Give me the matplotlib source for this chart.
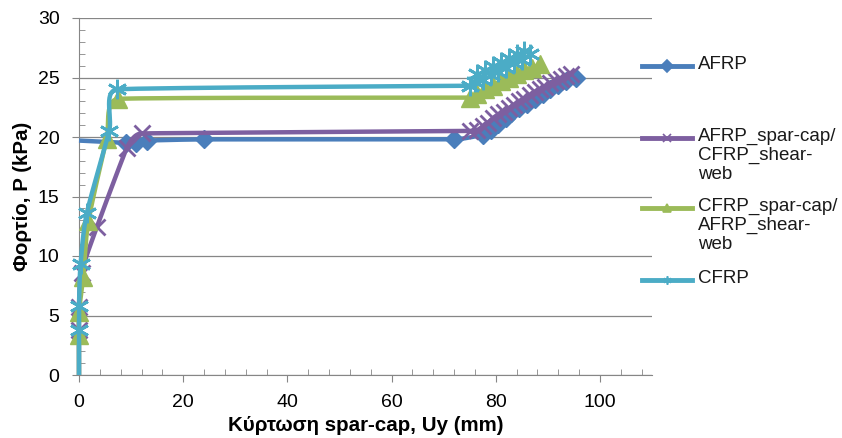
import numpy as np
import matplotlib.pyplot as plt
from matplotlib.lines import Line2D
from matplotlib.ticker import MultipleLocator

plt.rcParams['font.family'] = ['Liberation Sans', 'DejaVu Sans']

# AFRP
afrp_x = [0, 9, 11, 13, 24, 72, 77.5, 79, 80.5, 82, 83, 84.5, 86, 87.5, 89, 90.5, 92, 93.5, 95.5]
afrp_y = [19.7, 19.5, 19.5, 19.7, 19.8, 19.8, 20.2, 20.6, 21.1, 21.6, 22.0, 22.4, 22.8, 23.2, 23.6, 24.0, 24.4, 24.7, 25.0]

# AFRP spar-cap / CFRP shear-web
acs_x = [0, 0, 0, 0.5, 3.4, 9.2, 12, 75, 76.5, 77.5, 78.5, 79.5, 80.5, 81.5, 82.5, 83.5, 84.5,
         85.5, 86.5, 87.5, 88.5, 89.5, 90.5, 91.5, 92.5, 93.5, 94.5]
acs_y = [0, 3.8, 5.7, 8.6, 12.4, 19.1, 20.3, 20.5, 20.6, 20.9, 21.2, 21.6, 21.9, 22.1, 22.4, 22.7, 23.0,
         23.2, 23.5, 23.8, 24.0, 24.2, 24.5, 24.7, 24.9, 25.1, 25.3]

# CFRP spar-cap / AFRP shear-web
cas_x = [0, 0, 0, 0.8, 1.8, 5.3, 7.5, 75, 76.5, 78, 79.5, 81, 82.5, 84, 85.5, 87, 88.5]
cas_y = [0, 3.4, 5.3, 8.2, 12.9, 19.8, 23.2, 23.3, 23.6, 24.0, 24.3, 24.7, 25.0, 25.3, 25.6, 25.8, 26.1]

# CFRP
cfrp_x = [0, 0, 0, 0.3, 1.5, 5.8, 7.3, 75, 76, 76.5, 77.5, 78, 79, 79.5, 80.5, 81, 82, 82.5, 83.5, 84, 85, 85.5, 86.5]
cfrp_y = [0, 3.8, 5.8, 9.3, 13.6, 20.5, 24.0, 24.3, 24.6, 25.3, 24.8, 25.6, 25.2, 26.0, 25.5, 26.3, 25.8, 26.6, 26.2, 27.0, 26.5, 27.2, 27.0]

labels = ['AFRP', 'AFRP_spar-cap/\nCFRP_shear-\nweb', 'CFRP_spar-cap/\nAFRP_shear-\nweb', 'CFRP']
colors = ['#4A7EBB', '#7D5FA0', '#9BBB59', '#4BACC6']

# rough pixel size of one data unit, so smoothing works in screen space
SX, SY = 5.21, 11.9


def smooth(xs, ys, n=16):
    # bezier "smoothed line"; handles limited by the shorter neighbouring segment
    p = np.column_stack([np.asarray(xs, float) * SX, np.asarray(ys, float) * SY])
    m = len(p)
    seg = np.linalg.norm(np.diff(p, axis=0), axis=1)
    d = np.zeros_like(p)
    h = np.zeros(m)
    for i in range(m):
        a = p[max(i - 1, 0)]
        b = p[min(i + 1, m - 1)]
        v = b - a
        nv = np.linalg.norm(v)
        d[i] = v / nv if nv > 0 else 0
        near = [seg[j] for j in (i - 1, i) if 0 <= j < m - 1]
        h[i] = min(near) / 3
    t = np.linspace(0, 1, n)[:, None]
    pts = [p[:1]]
    for i in range(m - 1):
        c0, c3 = p[i], p[i + 1]
        c1 = c0 + d[i] * h[i]
        c2 = c3 - d[i + 1] * h[i + 1]
        b = (1 - t) ** 3 * c0 + 3 * (1 - t) ** 2 * t * c1 + 3 * (1 - t) * t ** 2 * c2 + t ** 3 * c3
        pts.append(b[1:])
    out = np.vstack(pts)
    return out[:, 0] / SX, out[:, 1] / SY


fig = plt.figure(figsize=(8.42, 4.38), dpi=100)
ax = fig.add_axes([79 / 842, 1 - 375 / 438, (652 - 79) / 842, (375 - 18) / 438])

styles = [
    dict(marker='D', markersize=9, markeredgewidth=1),
    dict(marker='x', markersize=11, markeredgewidth=2),
    dict(marker='^', markersize=13, markeredgewidth=1),
    dict(marker=(6, 2, 0), markersize=14, markeredgewidth=2),
]
series = [(afrp_x, afrp_y), (acs_x, acs_y), (cas_x, cas_y), (cfrp_x, cfrp_y)]

for k, ((xs, ys), c, st) in enumerate(zip(series, colors, styles)):
    sx, sy = smooth(xs, ys)
    ax.plot(sx, sy, color=c, lw=3.2, clip_on=False, zorder=3 + k, solid_capstyle='butt')
    ax.plot(xs[1:], ys[1:], color=c, lw=0, mec=c, mfc=c, clip_on=False, zorder=3 + k, **st)

ax.set_xlim(0, 110)
ax.set_ylim(0, 30)
ax.set_xticks(range(0, 101, 20))
ax.set_yticks(range(0, 31, 5))
ax.xaxis.set_minor_locator(MultipleLocator(4))
ax.yaxis.set_minor_locator(MultipleLocator(1))
ax.tick_params(which='major', direction='out', length=5, color='#868686', labelsize=14)
ax.tick_params(axis='x', which='major', pad=9)
ax.tick_params(axis='y', which='major', pad=9)
ax.tick_params(which='minor', direction='in', length=4, color='#868686')
ax.grid(axis='y', which='major', color='#868686', lw=0.9)
ax.set_axisbelow(True)
for s in ['top', 'right']:
    ax.spines[s].set_visible(False)
for s in ['left', 'bottom']:
    ax.spines[s].set_color('#868686')

ax.set_xlabel('Κύρτωση spar-cap, Uy (mm)', fontsize=14.8, fontweight='bold', labelpad=3)
ax.set_ylabel('Φορτίο, P (kPa)', fontsize=14.8, fontweight='bold', labelpad=4)

# legend drawn by hand to mimic the spreadsheet layout
leg_y = [66, 138, 208, 280]
for lab, c, st, yp in zip(labels, colors, styles, leg_y):
    fy = 1 - yp / 438
    ln = Line2D([642 / 842, 692 / 842], [fy, fy], transform=fig.transFigure, color=c, lw=3.5)
    fig.add_artist(ln)
    mk = Line2D([667 / 842], [fy], transform=fig.transFigure, color=c, lw=0,
                marker=st['marker'], markersize=6, mec=c, mfc=c, markeredgewidth=1.2)
    fig.add_artist(mk)
    fig.text(698 / 842, fy + 10 / 438, lab, fontsize=13.5, va='top', ha='left',
             linespacing=1.15, color='#1a1a1a')

fig.savefig('out.png', dpi=100)
